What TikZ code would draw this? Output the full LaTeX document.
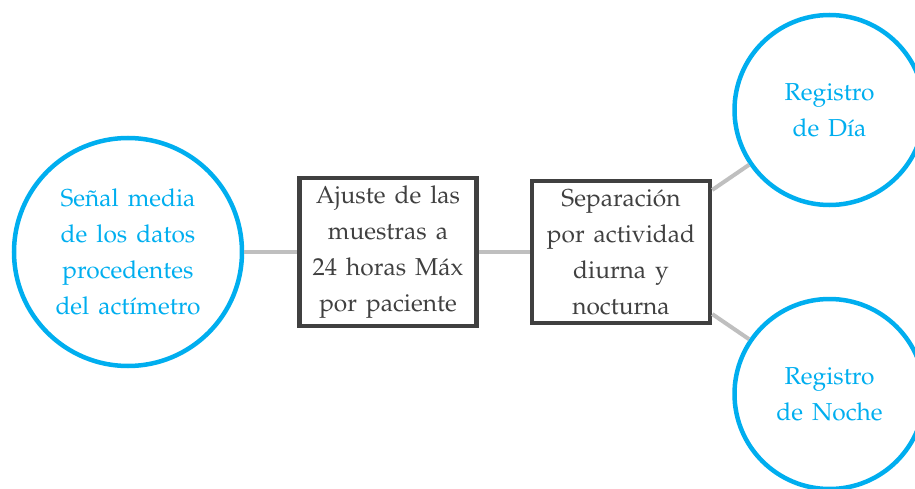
\documentclass[tikz,border=0pt]{standalone}
\usepackage[T1]{fontenc}
\usepackage{mathpazo}
\usepackage{tikz}
\usetikzlibrary{positioning}
\definecolor{azul}{RGB}{0,174,239}
\definecolor{gris}{RGB}{64,64,64}
\definecolor{linea}{RGB}{191,191,191}
\newcommand{\textoNodo}{\fontsize{24.5}{36}\selectfont\spaceskip=9pt\relax}
\tikzstyle{block}=[draw=gris,text=gris,line width=4.5pt,rectangle,align=center]
\tikzstyle{bubble}=[draw=azul,text=azul,line width=4.5pt,circle,align=center]
\tikzstyle{link}=[draw=linea,line width=4pt]
\tikzstyle{every node}=[font=\textoNodo]

\begin{document}
\begin{tikzpicture}[node distance=52pt]
    \useasboundingbox (0,0) rectangle (915pt,-489pt);
    \node[bubble, minimum size=228pt] (senal) at (128pt,-252pt) {Señal media\\de los datos\\procedentes\\del actímetro};
    \node[block, right=53pt of senal, minimum width=177pt, minimum height=148pt] (ajuste) {Ajuste de las\\muestras a\\24 horas Máx\\por paciente};
    \node[block, right=51pt of ajuste, minimum width=178pt, minimum height=142pt] (separa) {Separación\\por actividad\\diurna y\\nocturna};
    \draw[link] (senal) -- (ajuste);
    \draw[link] (ajuste) -- (separa);

    \node[bubble, minimum size=190pt, right=20pt of separa, yshift=142pt] (dia) {Registro\\de Día};
    \node[bubble, minimum size=190pt, right=20pt of separa, yshift=-142pt] (noche) {Registro\\de Noche};
    \draw[link] (separa) -- (dia);
    \draw[link] (separa) -- (noche);
\end{tikzpicture}
\end{document}
